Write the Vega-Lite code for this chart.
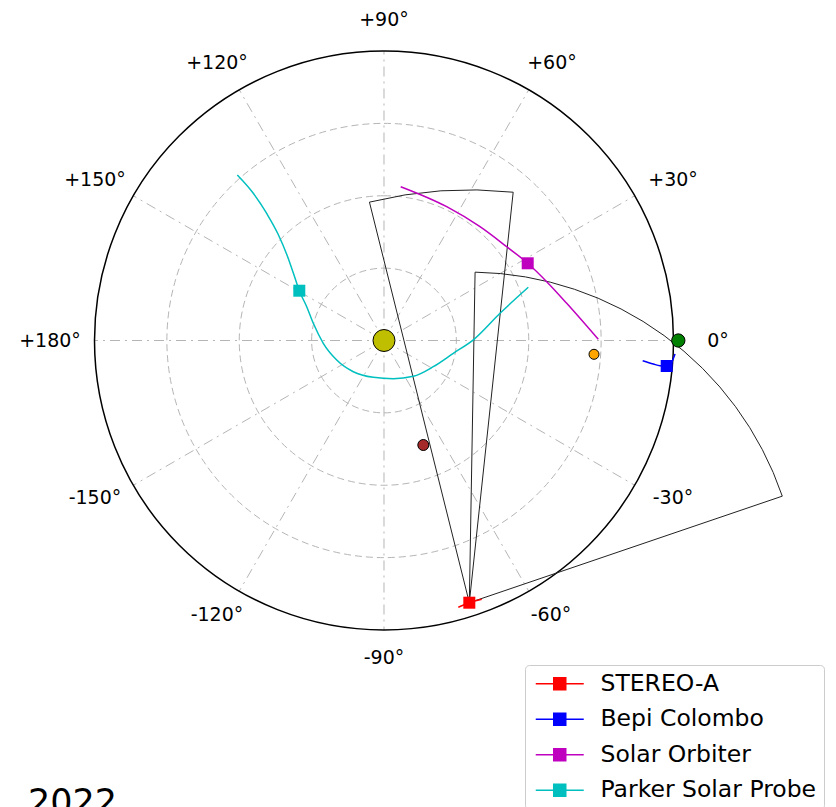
{
  "$schema": "https://vega.github.io/schema/vega-lite/v6.json",
  "width": 836,
  "height": 807,
  "autosize": {"type": "none"},
  "padding": 0,
  "background": "white",
  "config": {"view": {"stroke": null}, "font": "DejaVu Sans"},
  "encoding": {
    "x": {"field": "x", "type": "quantitative", "axis": null, "scale": {"domain": [-1.32642, 1.56131], "nice": false, "zero": false}},
    "y": {"field": "y", "type": "quantitative", "axis": null, "scale": {"domain": [-1.6114, 1.17617], "nice": false, "zero": false}}
  },
  "layer": [
    {
      "data": {"values": [{"x": 0, "y": 0, "r": 0.25}, {"x": 0, "y": 0, "r": 0.5}, {"x": 0, "y": 0, "r": 0.75}]},
      "mark": {"type": "arc", "theta": 0, "theta2": 6.2832, "fill": "transparent", "stroke": "#b5b5b5", "strokeWidth": 1, "strokeDash": [7, 4]},
      "encoding": {"radius": {"field": "r", "type": "quantitative", "stack": null, "scale": {"type": "linear", "domain": [0, 1], "range": [0, 289.5], "zero": true, "nice": false}}}
    },
    {
      "data": {"values": [
        {"x": 0, "y": 0, "x2": 1, "y2": 0},
        {"x": 0, "y": 0, "x2": 0.866, "y2": 0.5},
        {"x": 0, "y": 0, "x2": 0.5, "y2": 0.866},
        {"x": 0, "y": 0, "x2": 0, "y2": 1},
        {"x": 0, "y": 0, "x2": -0.5, "y2": 0.866},
        {"x": 0, "y": 0, "x2": -0.866, "y2": 0.5},
        {"x": 0, "y": 0, "x2": -1, "y2": 0},
        {"x": 0, "y": 0, "x2": -0.866, "y2": -0.5},
        {"x": 0, "y": 0, "x2": -0.5, "y2": -0.866},
        {"x": 0, "y": 0, "x2": 0, "y2": -1},
        {"x": 0, "y": 0, "x2": 0.5, "y2": -0.866},
        {"x": 0, "y": 0, "x2": 0.866, "y2": -0.5}
      ]},
      "mark": {"type": "rule", "stroke": "#b5b5b5", "strokeWidth": 1, "strokeDash": [10, 5, 2, 5]},
      "encoding": {"x2": {"field": "x2"}, "y2": {"field": "y2"}}
    },
    {
      "data": {"values": [{"x": 0, "y": 0, "r": 1}]},
      "mark": {"type": "arc", "theta": 0, "theta2": 6.2832, "fill": "transparent", "stroke": "black", "strokeWidth": 1.5},
      "encoding": {"radius": {"field": "r", "type": "quantitative", "stack": null, "scale": {"type": "linear", "domain": [0, 1], "range": [0, 289.5], "zero": true, "nice": false}}}
    },
    {
      "data": {"values": [
        {"x": 0.2947, "y": -0.9057, "r": 1.426, "t1": -14.0, "t2": 6.1},
        {"x": 0.2947, "y": -0.9057, "r": 1.142, "t1": 1.0, "t2": 71.2}
      ]},
      "mark": {"type": "arc", "fill": "transparent", "stroke": "#222222", "strokeWidth": 1},
      "encoding": {
        "radius": {"field": "r", "type": "quantitative", "stack": null, "scale": {"type": "linear", "domain": [0, 1], "range": [0, 289.5], "zero": true, "nice": false}},
        "theta": {"field": "t1", "type": "quantitative", "stack": null, "scale": {"type": "linear", "domain": [0, 360], "range": [0, 6.283185], "zero": false, "nice": false}},
        "theta2": {"field": "t2"}
      }
    },
    {
      "data": {"values": [
        {"name": "STEREO-A", "i": 0, "x": 0.2567, "y": -0.9216},
        {"name": "STEREO-A", "i": 1, "x": 0.2947, "y": -0.9057},
        {"name": "STEREO-A", "i": 2, "x": 0.3375, "y": -0.894},
        {"name": "Bepi Colombo", "i": 0, "x": 0.8936, "y": -0.0698},
        {"name": "Bepi Colombo", "i": 1, "x": 0.9302, "y": -0.0812},
        {"name": "Bepi Colombo", "i": 2, "x": 0.9534, "y": -0.0874},
        {"name": "Bepi Colombo", "i": 3, "x": 0.9765, "y": -0.0881},
        {"name": "Bepi Colombo", "i": 4, "x": 0.9931, "y": -0.076},
        {"name": "Bepi Colombo", "i": 5, "x": 1.0052, "y": -0.0466},
        {"name": "Solar Orbiter", "i": 0, "x": 0.0577, "y": 0.5313},
        {"name": "Solar Orbiter", "i": 1, "x": 0.2166, "y": 0.4622},
        {"name": "Solar Orbiter", "i": 2, "x": 0.3316, "y": 0.3931},
        {"name": "Solar Orbiter", "i": 3, "x": 0.4238, "y": 0.324},
        {"name": "Solar Orbiter", "i": 4, "x": 0.4964, "y": 0.2667},
        {"name": "Solar Orbiter", "i": 5, "x": 0.562, "y": 0.2031},
        {"name": "Solar Orbiter", "i": 6, "x": 0.6311, "y": 0.1285},
        {"name": "Solar Orbiter", "i": 7, "x": 0.7402, "y": 0.0041},
        {"name": "Parker Solar Probe", "i": 0, "x": -0.5067, "y": 0.5717},
        {"name": "Parker Solar Probe", "i": 1, "x": -0.4515, "y": 0.5085},
        {"name": "Parker Solar Probe", "i": 2, "x": -0.4041, "y": 0.437},
        {"name": "Parker Solar Probe", "i": 3, "x": -0.3661, "y": 0.3679},
        {"name": "Parker Solar Probe", "i": 4, "x": -0.3351, "y": 0.2953},
        {"name": "Parker Solar Probe", "i": 5, "x": -0.3109, "y": 0.2263},
        {"name": "Parker Solar Probe", "i": 6, "x": -0.2926, "y": 0.172},
        {"name": "Parker Solar Probe", "i": 7, "x": -0.267, "y": 0.1168},
        {"name": "Parker Solar Probe", "i": 8, "x": -0.2442, "y": 0.0594},
        {"name": "Parker Solar Probe", "i": 9, "x": -0.2097, "y": -0.0097},
        {"name": "Parker Solar Probe", "i": 10, "x": -0.1634, "y": -0.0674},
        {"name": "Parker Solar Probe", "i": 11, "x": -0.106, "y": -0.1078},
        {"name": "Parker Solar Probe", "i": 12, "x": -0.037, "y": -0.1271},
        {"name": "Parker Solar Probe", "i": 13, "x": 0.0321, "y": -0.132},
        {"name": "Parker Solar Probe", "i": 14, "x": 0.1012, "y": -0.1237},
        {"name": "Parker Solar Probe", "i": 15, "x": 0.1703, "y": -0.0905},
        {"name": "Parker Solar Probe", "i": 16, "x": 0.2394, "y": -0.0442},
        {"name": "Parker Solar Probe", "i": 17, "x": 0.3109, "y": 0.0041},
        {"name": "Parker Solar Probe", "i": 18, "x": 0.4007, "y": 0.094},
        {"name": "Parker Solar Probe", "i": 19, "x": 0.4984, "y": 0.1838}
      ]},
      "mark": {"type": "line", "strokeWidth": 1.5, "interpolate": "monotone"},
      "encoding": {
        "detail": {"field": "name"},
        "order": {"field": "i", "type": "quantitative"},
        "color": {
          "field": "name", "type": "nominal",
          "scale": {"domain": ["STEREO-A", "Bepi Colombo", "Solar Orbiter", "Parker Solar Probe"], "range": ["#ff0000", "#0000ff", "#bf00bf", "#00bfbf"]},
          "legend": {
            "title": null, "orient": "none", "legendX": 525, "legendY": 665, "padding": 7,
            "strokeColor": "#cccccc", "fillColor": "white", "cornerRadius": 4,
            "labelFont": "DejaVu Sans", "labelFontSize": 23.5, "labelColor": "black", "labelLimit": 0,
            "symbolType": "M-4,0H4M-1,-1H1V1H-1Z", "symbolSize": 144, "symbolStrokeWidth": 1.5,
            "symbolOffset": 16, "labelOffset": 29, "rowPadding": 10.5,
            "encode": {"symbols": {"update": {"fill": {"scale": "color", "field": "value"}, "stroke": {"scale": "color", "field": "value"}}}}
          }
        }
      }
    },
    {
      "data": {"values": [
        {"name": "STEREO-A", "x": 0.2947, "y": -0.9057},
        {"name": "Bepi Colombo", "x": 0.9765, "y": -0.0881},
        {"name": "Solar Orbiter", "x": 0.4964, "y": 0.2667},
        {"name": "Parker Solar Probe", "x": -0.2926, "y": 0.172}
      ]},
      "mark": {"type": "point", "shape": "square", "filled": true, "size": 144, "opacity": 1},
      "encoding": {"color": {"field": "name", "type": "nominal", "legend": null}}
    },
    {
      "data": {"values": [{"body": "Sun", "x": 0, "y": 0}]},
      "mark": {"type": "point", "shape": "circle", "filled": true, "size": 484, "fill": "#bfbf00", "stroke": "black", "strokeWidth": 1, "opacity": 1}
    },
    {
      "data": {"values": [{"body": "Earth", "x": 1.0166, "y": 0}]},
      "mark": {"type": "point", "shape": "circle", "filled": true, "size": 177, "fill": "#008000", "stroke": "black", "strokeWidth": 1, "opacity": 1}
    },
    {
      "data": {"values": [{"body": "Venus", "x": 0.7254, "y": -0.0477}]},
      "mark": {"type": "point", "shape": "circle", "filled": true, "size": 100, "fill": "#ffa500", "stroke": "black", "strokeWidth": 1, "opacity": 1}
    },
    {
      "data": {"values": [{"body": "Mercury", "x": 0.1358, "y": -0.361}]},
      "mark": {"type": "point", "shape": "circle", "filled": true, "size": 121, "fill": "#a52a2a", "stroke": "black", "strokeWidth": 1, "opacity": 1}
    },
    {
      "data": {"values": [
        {"x": 0, "y": 1.1071, "label": "+90°"},
        {"x": 0.5803, "y": 0.9585, "label": "+60°"},
        {"x": -0.5769, "y": 0.9585, "label": "+120°"},
        {"x": 0.9983, "y": 0.5544, "label": "+30°"},
        {"x": -0.9983, "y": 0.5544, "label": "+150°"},
        {"x": 1.1537, "y": 0, "label": "0°"},
        {"x": -1.1537, "y": 0, "label": "+180°"},
        {"x": 0.9983, "y": -0.544, "label": "-30°"},
        {"x": -0.9983, "y": -0.544, "label": "-150°"},
        {"x": 0.5769, "y": -0.9482, "label": "-60°"},
        {"x": -0.5769, "y": -0.9482, "label": "-120°"},
        {"x": 0, "y": -1.0967, "label": "-90°"}
      ]},
      "mark": {"type": "text", "font": "DejaVu Sans", "fontSize": 19, "color": "black", "align": "center", "baseline": "middle"},
      "encoding": {"text": {"field": "label"}}
    },
    {
      "data": {"values": [{"x": -1.2297, "y": -1.6339, "label": "2022"}]},
      "mark": {"type": "text", "font": "DejaVu Sans", "fontSize": 35, "color": "black", "align": "left", "baseline": "alphabetic"},
      "encoding": {"text": {"field": "label"}}
    }
  ]
}
